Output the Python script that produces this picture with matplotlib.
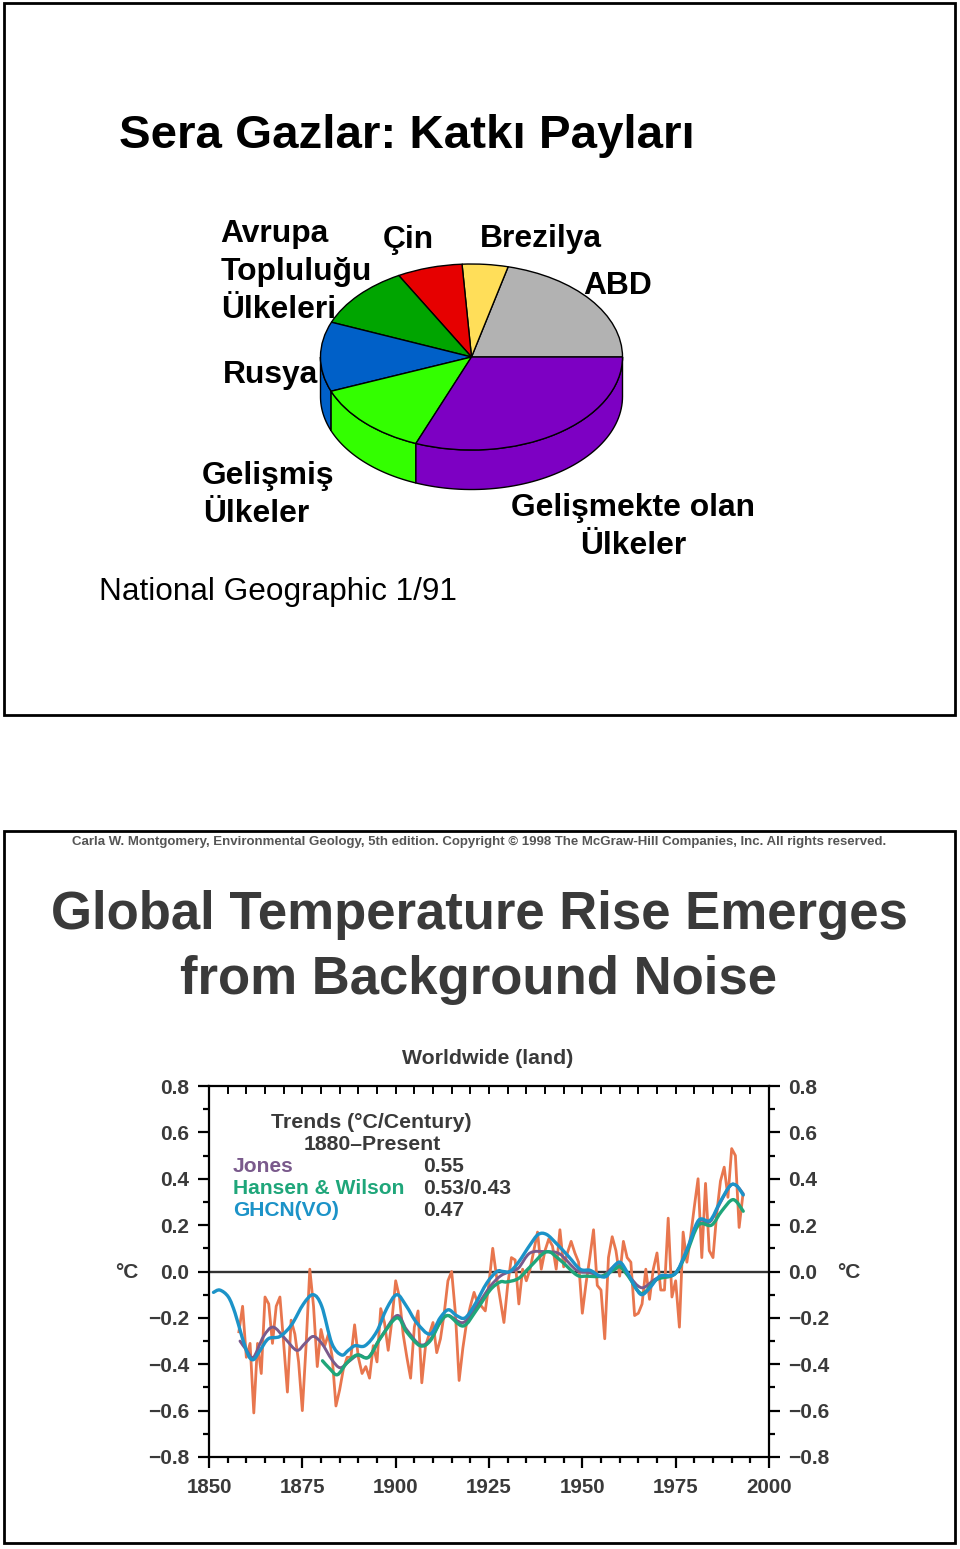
import numpy as np
import matplotlib
matplotlib.use("Agg")
import matplotlib.pyplot as plt
from matplotlib.patches import Rectangle, PathPatch
from matplotlib.path import Path
from matplotlib.ticker import MultipleLocator

plt.rcParams['font.family'] = ['Liberation Sans', 'DejaVu Sans']

# pie shares (percent), counterclockwise from the right
pie_labels = ["ABD", "Brezilya", "Çin", "Avrupa Topluluğu Ülkeleri", "Rusya", "Gelişmiş Ülkeler", "Gelişmekte olan Ülkeler"]
pie_shares = [21.1, 4.9, 7.0, 10.9, 12.1, 13.0, 31.0]
pie_colors = ["#b2b2b2", "#ffde59", "#e60000", "#00a500", "#0060c8", "#33ff00", "#7d00c3"]

# annual land temperature anomalies
annual_years = list(range(1858, 1994))
annual_vals = [-0.26, -0.15, -0.37, -0.31, -0.61, -0.31, -0.44, -0.11, -0.14, -0.31,
               -0.15, -0.11, -0.31, -0.52, -0.21, -0.27, -0.39, -0.60, -0.32, 0.01,
               -0.15, -0.41, -0.25, -0.32, -0.27, -0.37, -0.58, -0.51, -0.42, -0.37,
               -0.37, -0.23, -0.37, -0.44, -0.41, -0.46, -0.32, -0.39, -0.16, -0.22,
               -0.34, -0.21, -0.04, -0.11, -0.27, -0.37, -0.46, -0.24, -0.17, -0.48,
               -0.32, -0.27, -0.22, -0.35, -0.29, -0.18, -0.04, 0.00, -0.18, -0.47,
               -0.33, -0.22, -0.15, -0.09, -0.14, -0.15, -0.17, -0.05, 0.10, -0.02,
               -0.12, -0.22, -0.06, 0.06, 0.05, -0.14, 0.01, -0.04, 0.01, 0.09,
               0.17, 0.01, 0.09, 0.14, 0.11, 0.01, 0.18, 0.02, 0.08, 0.13,
               0.08, 0.04, -0.18, -0.05, 0.06, 0.18, -0.06, -0.08, -0.29, 0.06,
               0.15, 0.09, -0.02, 0.13, 0.06, 0.04, -0.19, -0.18, -0.14, 0.01,
               -0.12, 0.01, 0.08, -0.08, -0.08, 0.23, -0.11, -0.04, -0.24, 0.17,
               0.04, 0.15, 0.28, 0.40, 0.06, 0.38, 0.09, 0.06, 0.25, 0.39,
               0.45, 0.32, 0.53, 0.50, 0.19, 0.33]

ghcn_years = [1851.2, 1852.9, 1855.2, 1857.0, 1858.8, 1860.5, 1861.9, 1863.7, 1865.9, 1869.0,
              1872.1, 1875.3, 1877.9, 1880.2, 1882.9, 1885.5, 1887.3, 1889.1, 1891.8, 1894.9,
              1897.6, 1900.3, 1902.9, 1905.6, 1909.2, 1911.9, 1914.1, 1916.3, 1918.6, 1921.3,
              1924.4, 1927.1, 1928.8, 1930.6, 1932.9, 1936.0, 1938.2, 1940.4, 1943.1, 1946.3,
              1949.4, 1952.1, 1954.7, 1956.5, 1958.3, 1960.1, 1961.9, 1964.1, 1965.9, 1968.1,
              1970.8, 1974.8, 1977.9, 1981.1, 1984.2, 1986.9, 1989.6, 1991.3, 1993.1]
ghcn_vals = [-0.09, -0.08, -0.11, -0.18, -0.28, -0.36, -0.38, -0.34, -0.29, -0.28,
             -0.23, -0.14, -0.10, -0.15, -0.31, -0.36, -0.34, -0.32, -0.32, -0.26,
             -0.16, -0.10, -0.15, -0.22, -0.27, -0.20, -0.165, -0.19, -0.20, -0.14,
             -0.05, 0.00, 0.00, 0.00, 0.04, 0.115, 0.16, 0.16, 0.12, 0.065,
             0.01, 0.005, -0.02, -0.02, 0.02, 0.04, 0.00, -0.065, -0.10, -0.07,
             -0.02, -0.01, 0.09, 0.22, 0.22, 0.30, 0.37, 0.37, 0.33]

hansen_years = [1880.4, 1882.4, 1884.4, 1886.9, 1889.6, 1892.7, 1895.8, 1900.3, 1902.9, 1906.5,
                1909.2, 1911.9, 1914.1, 1918.1, 1921.7, 1925.3, 1928.0, 1929.7, 1932.9, 1936.0,
                1940.4, 1944.0, 1948.5, 1951.2, 1955.2, 1958.3, 1960.1, 1962.3, 1965.9, 1969.9,
                1974.8, 1977.9, 1981.1, 1984.6, 1987.3, 1990.4, 1993.1]
hansen_vals = [-0.385, -0.42, -0.445, -0.395, -0.36, -0.37, -0.29, -0.20, -0.26, -0.32,
               -0.30, -0.22, -0.19, -0.235, -0.165, -0.08, -0.045, -0.045, -0.03, 0.02,
               0.085, 0.05, -0.015, -0.02, -0.02, 0.005, 0.02, -0.02, -0.095, -0.035,
               -0.01, 0.08, 0.20, 0.20, 0.26, 0.31, 0.26]

jones_years = [1858.3, 1860.1, 1861.9, 1864.6, 1867.2, 1870.4, 1873.5, 1875.7, 1877.9, 1880.2,
               1882.9, 1885.1, 1887.3, 1890.0, 1892.7, 1895.8, 1900.3, 1902.9, 1906.5, 1909.2,
               1911.9, 1914.1, 1918.1, 1921.7, 1925.3, 1928.0, 1930.6, 1932.9, 1936.0, 1940.4,
               1944.0, 1948.5, 1952.1, 1955.2, 1958.3, 1960.1, 1962.3, 1965.9, 1969.9, 1974.8,
               1977.9, 1981.1, 1984.2, 1986.9, 1989.6, 1991.3, 1993.1]
jones_vals = [-0.30, -0.34, -0.37, -0.28, -0.24, -0.29, -0.34, -0.31, -0.28, -0.31,
              -0.38, -0.415, -0.39, -0.36, -0.37, -0.29, -0.19, -0.25, -0.315, -0.295,
              -0.22, -0.19, -0.22, -0.15, -0.065, -0.02, 0.00, 0.015, 0.08, 0.085,
              0.075, 0.005, -0.005, -0.02, 0.02, 0.035, -0.015, -0.07, -0.03, -0.01,
              0.085, 0.215, 0.215, 0.295, 0.37, 0.37, 0.335]

y_ticks = [-0.8, -0.6, -0.4, -0.2, 0.0, 0.2, 0.4, 0.6, 0.8]
y_tick_labels = ["\u22120.8", "\u22120.6", "\u22120.4", "\u22120.2", "0.0", "0.2", "0.4", "0.6", "0.8"]

W, H = 960, 1549
fig = plt.figure(figsize=(W / 100, H / 100), dpi=100, facecolor="white")


def px_axes(x0, y0, x1, y1, **kw):
    return fig.add_axes([x0 / W, 1 - y1 / H, (x1 - x0) / W, (y1 - y0) / H], **kw)


def smooth_line(ax, xs, ys, **kw):
    # curve through the read points, the originals are smoothed lines
    p = np.column_stack([xs, ys])
    verts = [p[0]]
    codes = [Path.MOVETO]
    for i in range(len(p) - 1):
        before = p[max(i - 1, 0)]
        after = p[min(i + 2, len(p) - 1)]
        verts += [p[i] + (p[i + 1] - before) / 6, p[i + 1] - (after - p[i]) / 6, p[i + 1]]
        codes += [Path.CURVE4] * 3
    ax.add_patch(PathPatch(Path(verts, codes), fill=False, capstyle="round", joinstyle="round", **kw))


# page layer: frames and all free text, in image pixels
page = px_axes(0, 0, W, H, zorder=5)
page.set_xlim(0, W)
page.set_ylim(H, 0)
page.axis("off")
page.patch.set_alpha(0)
for y0, y1 in [(3, 715), (831, 1543)]:
    page.add_patch(Rectangle((4, y0), 951, y1 - y0, fill=False, ec="black", lw=2))

# pie, squashed into an ellipse with a wall below it
depth = 0.425
ax = px_axes(320.5, 264, 622.5, 264 + 93 * (2 + depth + 0.05))
ax.pie(pie_shares, colors=pie_colors, radius=1, startangle=0, counterclock=True,
       wedgeprops=dict(edgecolor="black", linewidth=1))
ax.set_aspect("auto")
ax.set_xlim(-1, 1)
ax.set_ylim(-1 - depth - 0.05, 1)
edges = np.cumsum([0] + pie_shares) * 3.6
for i in range(len(pie_shares)):
    a0, a1 = max(edges[i], 180), edges[i + 1]
    if a1 <= 180:
        continue
    t = np.radians(np.linspace(a0, a1, 60))
    xs = np.concatenate([np.cos(t), np.cos(t[::-1])])
    ys = np.concatenate([np.sin(t), np.sin(t[::-1]) - depth])
    ax.fill(xs, ys, fc=pie_colors[i], ec="black", lw=1, zorder=0, clip_on=False)

top_font = dict(fontweight="bold", color="black", va="center")
page.text(119, 136, "Sera Gazlar: Katkı Payları", fontsize=34.2, **top_font)
page.text(220, 234, "Avrupa", fontsize=22.9, **top_font)
page.text(221, 272, "Topluluğu", fontsize=22.9, **top_font)
page.text(221, 310, "Ülkeleri", fontsize=22.9, **top_font)
page.text(383, 240, "Çin", fontsize=22.9, **top_font)
page.text(480, 239, "Brezilya", fontsize=22.9, **top_font)
page.text(583, 286, "ABD", fontsize=22.9, **top_font)
page.text(223, 375, "Rusya", fontsize=22.9, **top_font)
page.text(202, 476, "Gelişmiş", fontsize=22.9, **top_font)
page.text(203, 514, "Ülkeler", fontsize=22.9, **top_font)
page.text(511, 508, "Gelişmekte olan", fontsize=22.9, **top_font)
page.text(580, 546, "Ülkeler", fontsize=22.9, **top_font)
page.text(99, 592, "National Geographic 1/91", fontsize=22.7, color="black", va="center")

# lower panel
grey = "#3a3a3a"
page.text(479, 842, "Carla W. Montgomery, Environmental Geology, 5th edition. Copyright © 1998 The McGraw-Hill Companies, Inc. All rights reserved.",
          fontsize=9.56, fontweight="bold", color="#555555", ha="center", va="center")
page.text(479, 915, "Global Temperature Rise Emerges", fontsize=38, fontweight="bold", color=grey, ha="center", va="center")
page.text(479, 980, "from Background Noise", fontsize=38, fontweight="bold", color=grey, ha="center", va="center")
page.text(488, 1058, "Worldwide (land)", fontsize=15.3, fontweight="bold", color=grey, ha="center", va="center")
page.text(127, 1272, "°C", fontsize=15, fontweight="bold", color=grey, ha="center", va="center")
page.text(849, 1272, "°C", fontsize=15, fontweight="bold", color=grey, ha="center", va="center")

chart = px_axes(209, 1086, 769, 1457)
chart.set_xlim(1850, 2000)
chart.set_ylim(-0.8, 0.8)
chart.axhline(0, color="#333333", lw=1.7, zorder=2)
chart.plot(annual_years, annual_vals, color="#e8764e", lw=2, zorder=3)
smooth_line(chart, jones_years, jones_vals, ec="#7a5a8c", lw=2.1, zorder=4)
smooth_line(chart, hansen_years, hansen_vals, ec="#1fa67a", lw=2.4, zorder=5)
smooth_line(chart, ghcn_years, ghcn_vals, ec="#1c93c8", lw=2.4, zorder=6)

chart.xaxis.set_major_locator(MultipleLocator(25))
chart.xaxis.set_minor_locator(MultipleLocator(5))
chart.set_yticks(y_ticks, y_tick_labels)
chart.yaxis.set_minor_locator(MultipleLocator(0.1))
chart.tick_params(axis="x", which="major", length=8, width=1.6, direction="out", top=False, labelsize=14.8, labelcolor=grey, pad=7)
chart.tick_params(axis="x", which="minor", length=4, width=1.6, direction="out", top=False)
chart.tick_params(axis="y", which="major", length=8, width=1.6, left=True, right=True, labelleft=True, labelright=True, labelsize=15, labelcolor=grey, pad=6)
chart.tick_params(axis="y", which="minor", length=4, width=1.6, left=True, right=True)
for spine in chart.spines.values():
    spine.set_linewidth(1.6)
for x in range(1850, 2001, 5):
    chart.plot([x, x], [0.8, 0.77], color="black", lw=1.4, zorder=2)
for tick in chart.xaxis.get_major_ticks() + chart.yaxis.get_major_ticks():
    tick.label1.set_fontweight("bold")
    tick.label2.set_fontweight("bold")

page.text(371, 1122, "Trends (°C/Century)", fontsize=15.3, fontweight="bold", color=grey, ha="center", va="center")
page.text(372, 1144, "1880\u2013Present", fontsize=15.3, fontweight="bold", color=grey, ha="center", va="center")
for y, name, val, col in [(1166, "Jones", "0.55", "#7a5a8c"),
                          (1189, "Hansen & Wilson", "0.53/0.43", "#1fa67a"),
                          (1211, "GHCN(VO)", "0.47", "#1c93c8")]:
    page.text(233, y, name, fontsize=15.1, fontweight="bold", color=col, va="center")
    page.text(423, y, val, fontsize=15.1, fontweight="bold", color=grey, va="center")

fig.savefig("out.png", dpi=100)
